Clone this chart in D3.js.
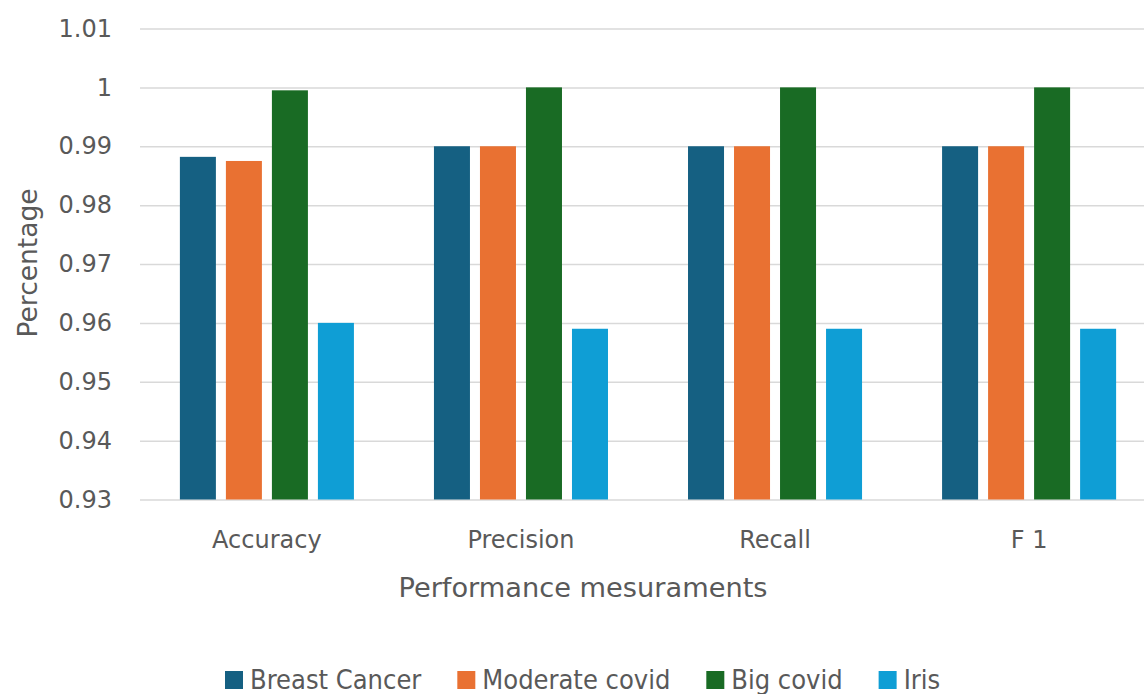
<!DOCTYPE html>
<html>
<head>
<meta charset="utf-8">
<script src="https://cdn.jsdelivr.net/npm/d3@7"></script>
<style>
  html, body { margin: 0; padding: 0; background: #ffffff; }
  svg { display: block; }
</style>
</head>
<body>
<svg id="chart" width="1144" height="694"></svg>
<script>
// ---- data ----
const categories = ["Accuracy", "Precision", "Recall", "F 1"];
const seriesNames = ["Breast Cancer", "Moderate covid", "Big covid", "Iris"];
const breastCancer = [0.9882, 0.99, 0.99, 0.99];
const moderateCovid = [0.9875, 0.99, 0.99, 0.99];
const bigCovid = [0.9995, 1.0, 1.0, 1.0];
const iris = [0.96, 0.959, 0.959, 0.959];
const yTickValues = [0.93, 0.94, 0.95, 0.96, 0.97, 0.98, 0.99, 1.0, 1.01];
const yTickLabels = ["0.93", "0.94", "0.95", "0.96", "0.97", "0.98", "0.99", "1", "1.01"];
const xTitle = "Performance mesuraments";
const yTitle = "Percentage";

const seriesValues = [breastCancer, moderateCovid, bigCovid, iris];
const colors = ["#156082", "#E97132", "#196B24", "#0F9ED5"];

// ---- layout ----
const svg = d3.select("#chart");
const plotLeft = 140, plotRight = 1156, plotTop = 28.5, plotBottom = 499.5;
const textColor = "#595959";
const font = "'DejaVu Sans', sans-serif";

const x0 = d3.scaleBand().domain(categories).range([plotLeft, plotRight])
  .paddingInner(0.315).paddingOuter(0.157);
const x1 = d3.scaleBand().domain(seriesNames).range([0, x0.bandwidth()])
  .paddingInner(0.2174).paddingOuter(0);
const y = d3.scaleLinear().domain([0.93, 1.01]).range([plotBottom, plotTop]);
const color = d3.scaleOrdinal().domain(seriesNames).range(colors);

// gridlines
svg.append("g")
  .attr("transform", `translate(${plotLeft},0)`)
  .call(d3.axisRight(y).tickValues(yTickValues).tickSize(plotRight - plotLeft).tickFormat(""))
  .call(g => g.select(".domain").remove())
  .call(g => g.selectAll("line").attr("stroke", "#d9d9d9").attr("stroke-width", 1.5));

// y axis labels
svg.append("g")
  .attr("transform", `translate(${plotLeft},0)`)
  .call(d3.axisLeft(y).tickValues(yTickValues).tickSize(0).tickPadding(28)
    .tickFormat((d, i) => yTickLabels[i]))
  .call(g => g.select(".domain").remove())
  .call(g => g.selectAll("text")
    .attr("fill", textColor)
    .style("font-family", font)
    .style("font-size", "24px"));

// bars
const rows = categories.map((c, i) => ({ cat: c, vals: seriesNames.map((s, j) => ({ s, v: seriesValues[j][i] })) }));
svg.append("g").selectAll("g")
  .data(rows).join("g")
  .attr("transform", d => `translate(${x0(d.cat)},0)`)
  .selectAll("rect")
  .data(d => d.vals).join("rect")
  .attr("x", d => x1(d.s))
  .attr("width", x1.bandwidth())
  .attr("y", d => y(d.v))
  .attr("height", d => y(0.93) - y(d.v))
  .attr("fill", d => color(d.s));

// x axis labels
svg.append("g")
  .attr("transform", `translate(0,${plotBottom})`)
  .call(d3.axisBottom(x0).tickSize(0).tickPadding(31.5))
  .call(g => g.select(".domain").remove())
  .call(g => g.selectAll("text")
    .attr("fill", textColor)
    .style("font-family", font)
    .style("font-size", "24px"));

// axis titles
svg.append("text")
  .attr("x", 583).attr("y", 597)
  .attr("text-anchor", "middle")
  .attr("fill", textColor)
  .style("font-family", font).style("font-size", "26px")
  .attr("textLength", 369).attr("lengthAdjust", "spacingAndGlyphs")
  .text(xTitle);

svg.append("text")
  .attr("transform", "translate(37,263) rotate(-90)")
  .attr("text-anchor", "middle")
  .attr("fill", textColor)
  .style("font-family", font).style("font-size", "26px")
  .attr("textLength", 149).attr("lengthAdjust", "spacingAndGlyphs")
  .text(yTitle);

// legend
const legend = svg.append("g");
const legendFont = "'DejaVu Sans Condensed', 'DejaVu Sans', sans-serif";
let lx = 225;
seriesNames.forEach((s, i) => {
  const g = legend.append("g");
  g.append("rect").attr("x", lx).attr("y", 671).attr("width", 18).attr("height", 18)
    .attr("fill", color(s));
  const t = g.append("text").attr("x", lx + 25).attr("y", 689)
    .attr("fill", textColor)
    .style("font-family", legendFont).style("font-size", "27px")
    .text(s);
  const w = t.node().getComputedTextLength();
  lx += 25 + w + 36;
});
</script>
</body>
</html>
